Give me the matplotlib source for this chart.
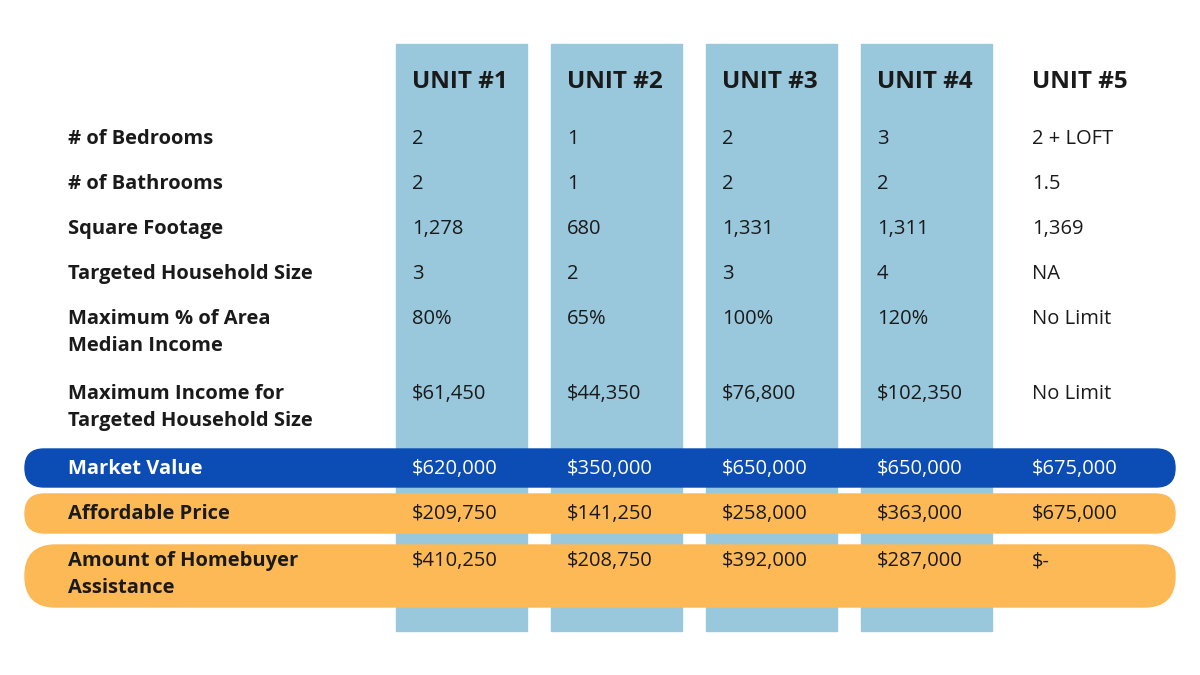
import matplotlib
matplotlib.use("Agg")
import matplotlib.pyplot as plt
from matplotlib.patches import Rectangle, FancyBboxPatch

units = ["UNIT #1", "UNIT #2", "UNIT #3", "UNIT #4", "UNIT #5"]
row_labels = ["# of Bedrooms", "# of Bathrooms", "Square Footage", "Targeted Household Size",
              "Maximum % of Area\nMedian Income", "Maximum Income for\nTargeted Household Size"]
bedrooms = ["2", "1", "2", "3", "2 + LOFT"]
bathrooms = ["2", "1", "2", "2", "1.5"]
sqft = ["1,278", "680", "1,331", "1,311", "1,369"]
household = ["3", "2", "3", "4", "NA"]
max_ami = ["80%", "65%", "100%", "120%", "No Limit"]
max_income = ["$61,450", "$44,350", "$76,800", "$102,350", "No Limit"]
market_value = ["$620,000", "$350,000", "$650,000", "$650,000", "$675,000"]
affordable = ["$209,750", "$141,250", "$258,000", "$363,000", "$675,000"]
assistance = ["$410,250", "$208,750", "$392,000", "$287,000", "$-"]

FONT = "Open Sans"
FS = 14.5
fig = plt.figure(figsize=(12, 6.75), dpi=100)
ax = fig.add_axes([0, 0, 1, 1])
ax.set_xlim(0, 1200); ax.set_ylim(675, 0); ax.axis("off")

col_x = [396, 551, 706, 861, 1016]
for x in col_x[:4]:
    ax.add_patch(Rectangle((x, 44), 131, 587, color="#99C7DB", zorder=0))

for x, u in zip(col_x, units):
    ax.text(x + 16, 82, u, fontsize=17.5, fontweight="bold", va="center", family=FONT, color="#1a1a1a")

def band(y0, h, color):
    ax.add_patch(FancyBboxPatch((25, y0), 1150, h, boxstyle=f"round,pad=0,rounding_size={h/2*0.99}",
                                color=color, zorder=1))

band(449, 38, "#0B4DB5")
band(494, 39, "#FDB955")
band(545, 62, "#FDB955")

rows = [bedrooms, bathrooms, sqft, household, max_ami, max_income]
row_y = [138, 183, 228, 273, 318, 393]
for y, lab, vals in zip(row_y, row_labels, rows):
    ax.text(68, y - 9, lab, fontsize=FS, fontweight="bold", va="top", family=FONT,
            color="#1a1a1a", linespacing=1.45)
    for x, v in zip(col_x, vals):
        ax.text(x + 16, y - 9, v, fontsize=FS, va="top", family=FONT, color="#1a1a1a")

ax.text(68, 469, "Market Value", fontsize=FS, fontweight="bold", va="center", family=FONT, color="white", zorder=3)
for x, v in zip(col_x, market_value):
    ax.text(x + 16, 469, v, fontsize=FS, va="center", family=FONT, color="white", zorder=3)
ax.text(68, 514, "Affordable Price", fontsize=FS, fontweight="bold", va="center", family=FONT, color="#1a1a1a", zorder=3)
for x, v in zip(col_x, affordable):
    ax.text(x + 16, 514, v, fontsize=FS, va="center", family=FONT, color="#1a1a1a", zorder=3)
ax.text(68, 551, "Amount of Homebuyer\nAssistance", fontsize=FS, fontweight="bold", va="top", family=FONT,
        color="#1a1a1a", linespacing=1.45, zorder=3)
for x, v in zip(col_x, assistance):
    ax.text(x + 16, 551, v, fontsize=FS, va="top", family=FONT, color="#1a1a1a", zorder=3)

fig.savefig("out.png", dpi=100, facecolor="white")
